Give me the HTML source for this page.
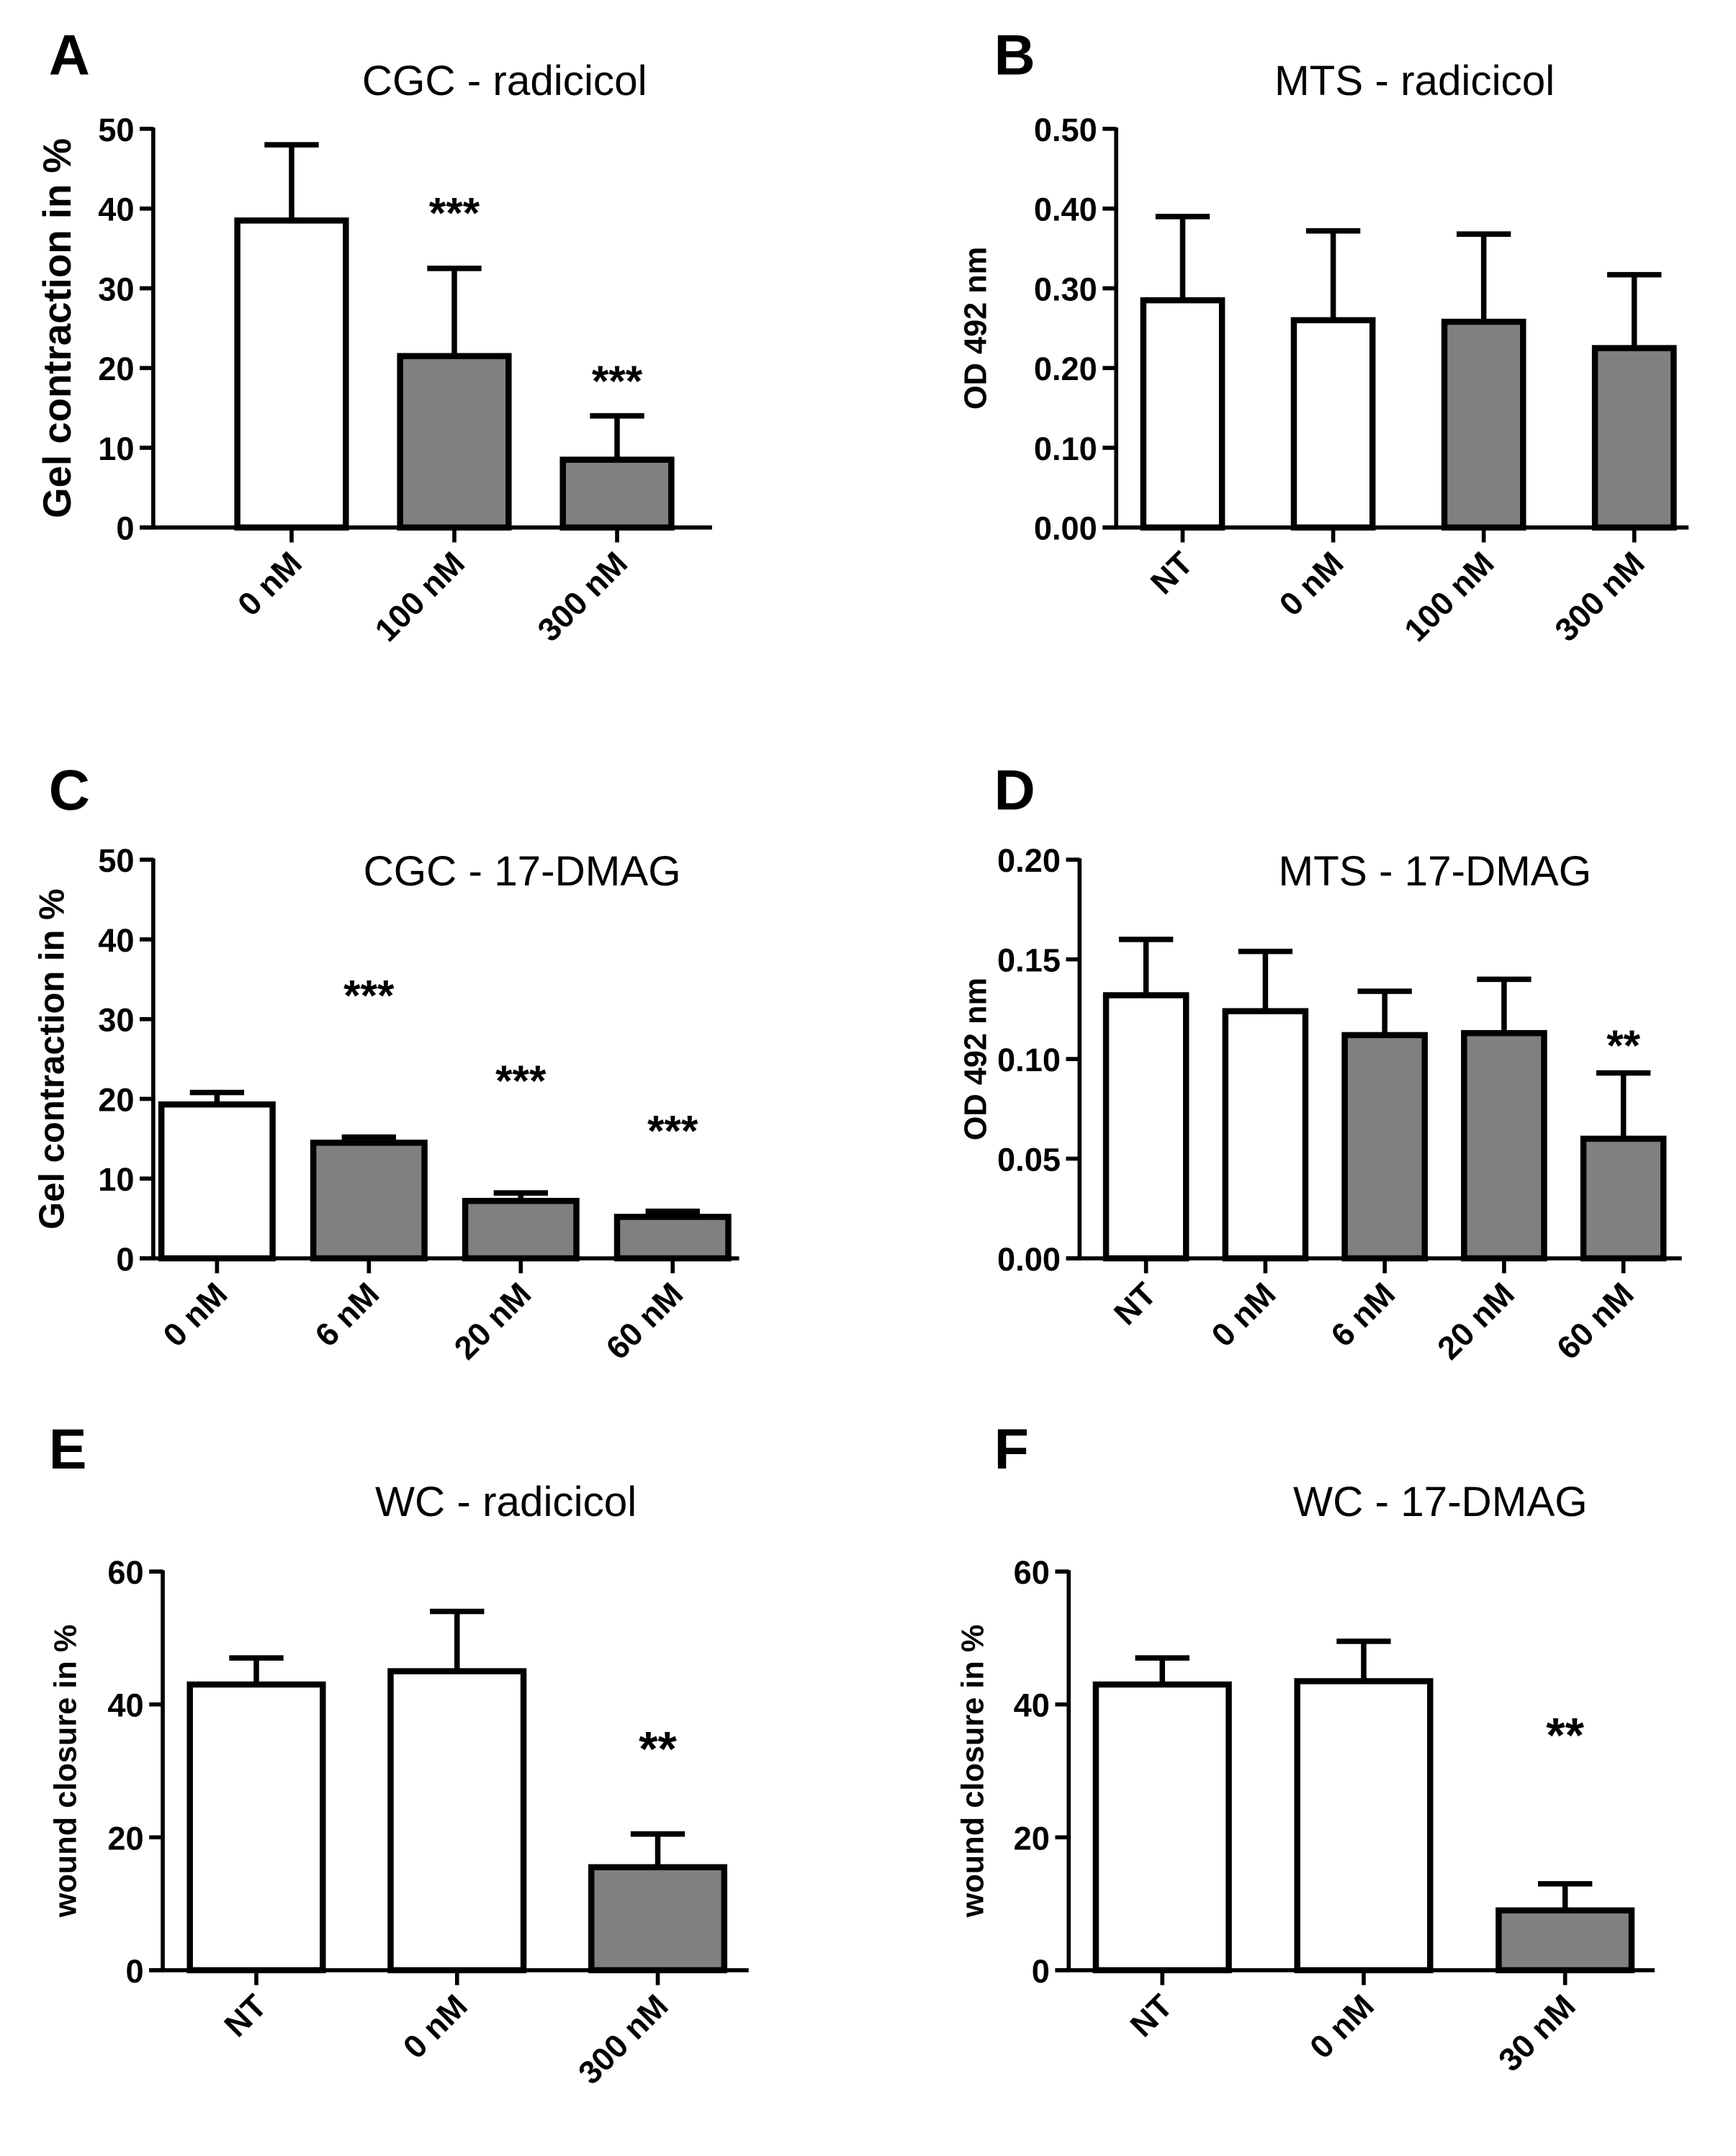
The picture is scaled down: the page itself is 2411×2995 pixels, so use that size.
<!DOCTYPE html>
<html><head><meta charset="utf-8"><style>
html,body{margin:0;padding:0;background:#fff;}
svg{display:block;font-family:"Liberation Sans",Arial,sans-serif;}
</style></head><body>
<svg id="fig" width="2411" height="2995" viewBox="0 0 1280 1590" xmlns="http://www.w3.org/2000/svg">
<rect width="1280" height="1590" fill="#fff"/>
</svg>
<script>
// Panel A
const catsA = ["0 nM","100 nM","300 nM"];
const valsA = [38.5, 21.5, 8.5];
const errA = [9.5, 11, 5.5];
const fillA = ["w","g","g"];
const starsA = ["","***","***"];
const ticksA = ["0","10","20","30","40","50"];
// Panel B
const catsB = ["NT","0 nM","100 nM","300 nM"];
const valsB = [0.285, 0.26, 0.258, 0.225];
const errB = [0.105, 0.112, 0.11, 0.092];
const fillB = ["w","w","g","g"];
const starsB = ["","","",""];
const ticksB = ["0.00","0.10","0.20","0.30","0.40","0.50"];
// Panel C
const catsC = ["0 nM","6 nM","20 nM","60 nM"];
const valsC = [19.3, 14.5, 7.2, 5.2];
const errC = [1.5, 0.7, 1.0, 0.7];
const fillC = ["w","g","g","g"];
const starsC = ["","***","***","***"];
const ticksC = ["0","10","20","30","40","50"];
// Panel D
const catsD = ["NT","0 nM","6 nM","20 nM","60 nM"];
const valsD = [0.132, 0.124, 0.112, 0.113, 0.060];
const errD = [0.028, 0.030, 0.022, 0.027, 0.033];
const fillD = ["w","w","g","g","g"];
const starsD = ["","","","","**"];
const ticksD = ["0.00","0.05","0.10","0.15","0.20"];
// Panel E
const catsE = ["NT","0 nM","300 nM"];
const valsE = [43, 45, 15.5];
const errE = [4, 9, 5];
const fillE = ["w","w","g"];
const starsE = ["","","**"];
const ticksE = ["0","20","40","60"];
// Panel F
const catsF = ["NT","0 nM","30 nM"];
const valsF = [43, 43.5, 9];
const errF = [4, 6, 4];
const fillF = ["w","w","g"];
const starsF = ["","","**"];
const ticksF = ["0","20","40","60"];

const svg = document.getElementById('fig');
const NS = 'http://www.w3.org/2000/svg';
function mk(tag, attrs, parent){
  const e = document.createElementNS(NS, tag);
  for (const k in attrs) e.setAttribute(k, attrs[k]);
  (parent||svg).appendChild(e);
  return e;
}
function panel(o){
  const g = mk('g', {});
  
  
  const max = parseFloat(o.ticks[o.ticks.length-1]);
  const y = v => o.y0 - (v / max) * (o.y0 - o.y1);
  const cx = i => o.ax + o.off + o.step * i;
  const bw = o.bw;
  const L = mk('text', {x: o.lx, y: o.ly, 'font-size': 42, 'font-weight': 'bold'}, g);
  L.textContent = o.letter;
  
  
  const T = mk('text', {x: o.tx, y: o.ty, 'font-size': 31, 'text-anchor': 'middle'}, g);
  T.textContent = o.title;
  
  
  const YL = mk('text', {transform: `translate(${o.ylx},${(o.y0 + o.y1) / 2}) rotate(-90)`, 'font-size': o.ylfs, 'font-weight': 'bold', 'text-anchor': 'middle'}, g);
  YL.textContent = o.ylabel;
  
  
  o.vals.forEach((v, i) => {
    const x = cx(i);
    const top = y(v + o.err[i]);
    const e1 = mk('line', {x1: x, x2: x, y1: y(v), y2: top, stroke: '#000', 'stroke-width': 4}, g);
    
    
    const e2 = mk('line', {x1: x - 20, x2: x + 20, y1: top, y2: top, stroke: '#000', 'stroke-width': 4}, g);
    
    
    const r = mk('rect', {x: x - bw / 2, y: y(v), width: bw, height: o.y0 - y(v), fill: o.fill[i] === 'g' ? '#808080' : '#fff', stroke: '#000', 'stroke-width': 4.5}, g);
    
    
    if (o.stars[i]) {
      const s = mk('text', {x: x, y: (o.starY && o.starY[i]) || (top - 14), 'font-size': o.starFs || 32, 'font-weight': 'bold', 'text-anchor': 'middle'}, g);
      s.textContent = o.stars[i];
      
      
    }
    const tk = mk('line', {x1: x, x2: x, y1: o.y0, y2: o.y0 + 11, stroke: '#000', 'stroke-width': 3}, g);
    
    
    const lb = mk('text', {transform: `translate(${x + 9},${o.y0 + 28}) rotate(-45)`, 'font-size': 24, 'font-weight': 'bold', 'text-anchor': 'end'}, g);
    lb.textContent = o.cats[i];
    
    
  });
  const ya = mk('line', {x1: o.ax, x2: o.ax, y1: o.y1 - 1, y2: o.y0 + 1.5, stroke: '#000', 'stroke-width': 3}, g);
  
  
  const xa = mk('line', {x1: o.ax - 10, x2: o.xr, y1: o.y0, y2: o.y0, stroke: '#000', 'stroke-width': 3}, g);
  
  
  o.ticks.forEach(t => {
    const ty = y(parseFloat(t));
    const tk = mk('line', {x1: o.ax - 10, x2: o.ax, y1: ty, y2: ty, stroke: '#000', 'stroke-width': 3}, g);
    
    
    const lb = mk('text', {x: o.ax - 14, y: ty + 9, 'font-size': 24, 'font-weight': 'bold', 'text-anchor': 'end'}, g);
    lb.textContent = t;
    
    
  });
}
panel({letter:'A', lx:36, ly:55, title:'CGC - radicicol', tx:372, ty:70, ylabel:'Gel contraction in %', ylx:52, ylfs:29,
  ax:113, xr:525, y0:389, y1:95, bw:80, off:102, step:120, cats:catsA, vals:valsA, err:errA, fill:fillA, stars:starsA, ticks:ticksA,
  starY:[0,168,292]});
panel({letter:'B', lx:733, ly:55, title:'MTS - radicicol', tx:1043, ty:70, ylabel:'OD 492 nm', ylx:727, ylfs:23,
  ax:823, xr:1245, y0:389, y1:95, bw:58, off:49, step:111, cats:catsB, vals:valsB, err:errB, fill:fillB, stars:starsB, ticks:ticksB});
panel({letter:'C', lx:36, ly:597, title:'CGC - 17-DMAG', tx:385, ty:653, ylabel:'Gel contraction in %', ylx:47, ylfs:26,
  ax:113, xr:545, y0:928, y1:634, bw:82, off:47, step:112, cats:catsC, vals:valsC, err:errC, fill:fillC, stars:starsC, ticks:ticksC,
  starY:[0,745,808,845]});
panel({letter:'D', lx:733, ly:597, title:'MTS - 17-DMAG', tx:1058, ty:653, ylabel:'OD 492 nm', ylx:727, ylfs:23,
  ax:796, xr:1240, y0:928, y1:634, bw:59, off:49, step:88, cats:catsD, vals:valsD, err:errD, fill:fillD, stars:starsD, ticks:ticksD,
  starY:[0,0,0,0,782]});
panel({letter:'E', lx:36, ly:1083, title:'WC - radicicol', tx:373, ty:1118, ylabel:'wound closure in %', ylx:56, ylfs:23,
  ax:120, xr:552, y0:1453, y1:1159, bw:98, off:69, step:148, cats:catsE, vals:valsE, err:errE, fill:fillE, stars:starsE, ticks:ticksE,
  starY:[0,0,1302], starFs:36});
panel({letter:'F', lx:733, ly:1083, title:'WC - 17-DMAG', tx:1062, ty:1118, ylabel:'wound closure in %', ylx:725, ylfs:23,
  ax:788, xr:1220, y0:1453, y1:1159, bw:98, off:69, step:148.5, cats:catsF, vals:valsF, err:errF, fill:fillF, stars:starsF, ticks:ticksF,
  starY:[0,0,1292], starFs:36});
</script>
</body></html>
